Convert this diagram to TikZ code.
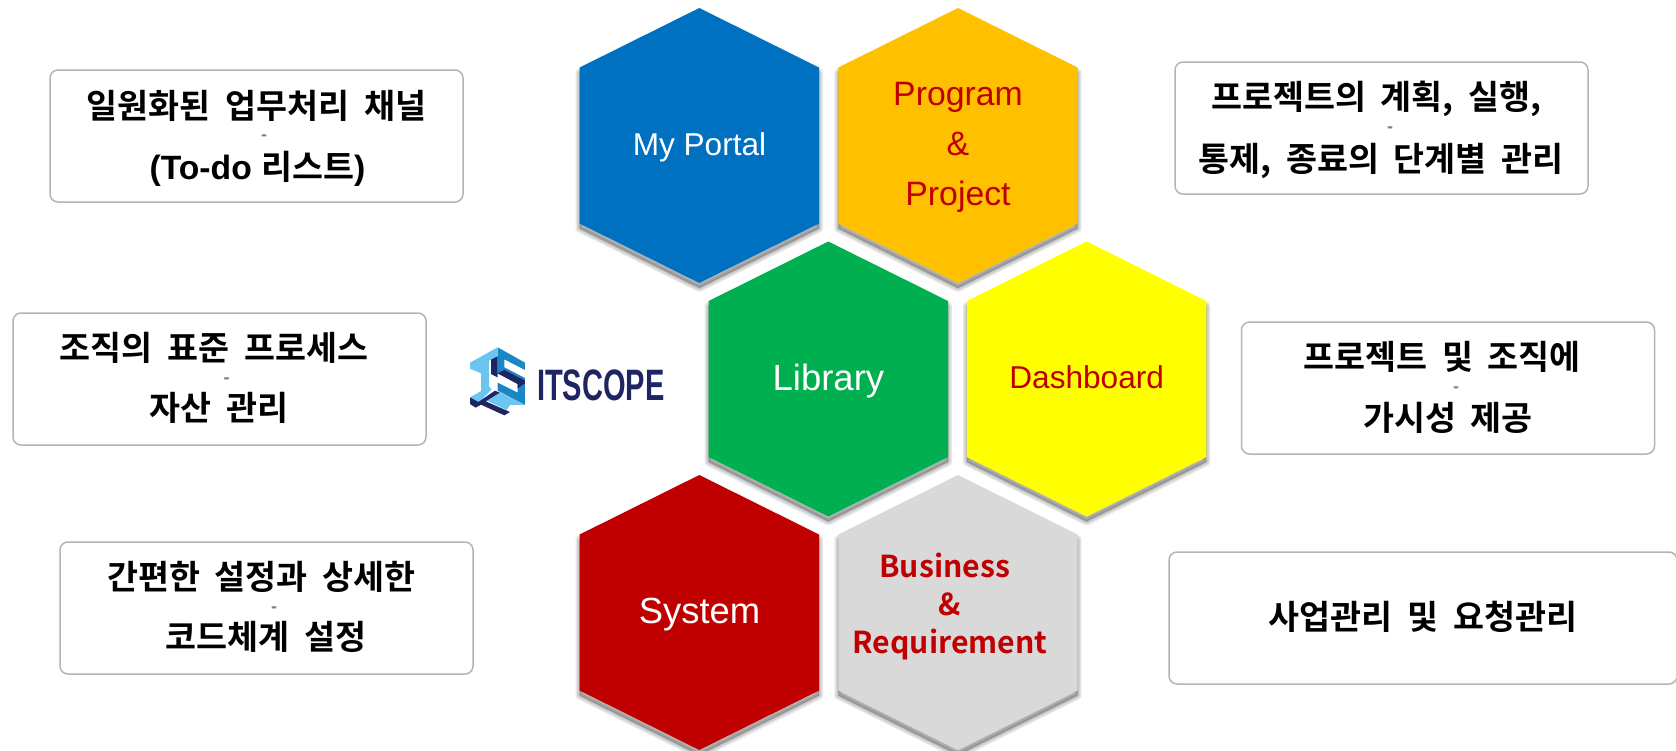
\documentclass[tikz,border=0pt]{standalone}
\usepackage{fontspec}
\setmainfont{Liberation Sans}
\newfontfamily\krfont[BoldFont={Noto Sans CJK KR Bold},WordSpace=1.9]{Noto Sans CJK KR}
\definecolor{hexblue}{HTML}{0070C0}
\definecolor{hexamber}{HTML}{FFC000}
\definecolor{hexgreen}{HTML}{00B050}
\definecolor{hexyellow}{HTML}{FFFF00}
\definecolor{hexred}{HTML}{C00000}
\definecolor{hexgray}{HTML}{D9D9D9}
\definecolor{boxline}{HTML}{B4B4B4}
\definecolor{logolight}{HTML}{6CC5F1}
\definecolor{logomid}{HTML}{1B86C6}
\definecolor{logonavy}{HTML}{1F2562}
\tikzset{
  infobox/.style={draw=boxline,line width=1.5pt,rounded corners=8pt,minimum width=413pt,minimum height=132pt,inner sep=0pt},
  krline/.style={anchor=base,inner sep=0pt,font={\fontsize{33.7}{36}\selectfont\krfont\bfseries}},
  tick/.style={anchor=base,inner sep=0pt,text=gray,font={\fontsize{18}{18}\selectfont\bfseries}},
  hexlabel/.style={anchor=base,inner sep=0pt,align=center},
  bizlabel/.style={anchor=base,inner sep=0pt,text=hexred,font={\fontsize{30.2}{32}\selectfont\krfont\bfseries}},
}
\def\hexpath{(-119.7,-78) -- (0,-137.5) -- (119.7,-78) -- (119.7,78) -- (0,137.5) -- (-119.7,78) -- cycle}
\begin{document}
\begin{tikzpicture}[x=1pt,y=-1pt]
  \useasboundingbox (0,0) rectangle (1676,750);

  %shadows first, then the cells
  \foreach \cx/\cy in {699.3/145.5,958/145.5,828.3/379,1086.6/379,699.3/612.5,958/612.5}
    \foreach \w in {8,5,2}
      \filldraw[black,opacity=0.09,line width=\w pt,line join=round,shift={(\cx,\cy+5)}] \hexpath;
  \foreach \cx/\cy/\col in {699.3/145.5/hexblue,958/145.5/hexamber,828.3/379/hexgreen,1086.6/379/hexyellow,699.3/612.5/hexred,958/612.5/hexgray}
    \fill[\col,shift={(\cx,\cy)}] \hexpath;

  \node[hexlabel,text=white,font=\fontsize{31.6}{36}\selectfont] (portal) at (699.5,155) {My Portal};
  \node[hexlabel,text=hexred,font=\fontsize{33.8}{36}\selectfont] (program) at (958,105.3) {Program};
  \node[hexlabel,text=hexred,font=\fontsize{33.8}{36}\selectfont] (amp) at (958,155) {\&};
  \node[hexlabel,text=hexred,font=\fontsize{33.8}{36}\selectfont] (project) at (958,205.3) {Project};
  \node[hexlabel,text=white,font=\fontsize{36.5}{36}\selectfont] (library) at (828.4,390.7) {Library};
  \node[hexlabel,text=hexred,font=\fontsize{31.6}{36}\selectfont] (dashboard) at (1086.7,388) {Dashboard};
  \node[hexlabel,text=white,font=\fontsize{36.4}{36}\selectfont] (system) at (699.5,623) {System};
  \node[bizlabel] (business) at (944.7,577) {Business};
  \node[bizlabel] (bizamp) at (950,615) {\&};
  \node[bizlabel] (requirement) at (950,653) {Requirement};

  %left boxes
  \node[infobox] (todobox) at (256.5,136) {};
  \node[krline] (todoa) at (256.5,118) {일원화된 업무처리 채널};
  \node[tick] (todot) at (264,140.8) {-};
  \node[krline] (todob) at (257.5,179) {{\rmfamily (To-do }리스트{\rmfamily )}};

  \node[infobox] (assetbox) at (219.5,379) {};
  \node[krline] (asseta) at (214,360) {조직의 표준 프로세스};
  \node[tick] (assett) at (226.7,383.8) {-};
  \node[krline] (assetb) at (218.8,420) {자산 관리};

  \node[infobox] (codebox) at (266.5,608) {};
  \node[krline] (codea) at (261.3,589) {간편한 설정과 상세한};
  \node[tick] (codet) at (274,612.8) {-};
  \node[krline] (codeb) at (265.8,649.5) {코드체계 설정};

  %right boxes
  \node[infobox] (stagebox) at (1381.5,128) {};
  \node[krline] (stagea) at (1376,109) {프로젝트의 계획, 실행,};
  \node[tick] (staget) at (1390,132.8) {-};
  \node[krline] (stageb) at (1381,171) {통제, 종료의 단계별 관리};

  \node[infobox] (viewbox) at (1448,388) {};
  \node[krline] (viewa) at (1442,369) {프로젝트 및 조직에};
  \node[tick] (viewt) at (1456,392.8) {-};
  \node[krline] (viewb) at (1448,430) {가시성 제공};

  \node[infobox,minimum width=508pt] (bizbox) at (1423,618) {};
  \node[krline] (biza) at (1423,629) {사업관리 및 요청관리};

  %logo
  \begin{scope}[shift={(465,340)},x=0.3333pt,y=-0.3333pt]
    \fill[logomid] (98,22) -- (180,68) -- (180,90) -- (118,58) -- (118,82) -- (180,114) -- (180,195) -- (98,152) -- (98,128) -- (158,158) -- (158,132) -- (98,100) -- cycle;
    \fill[logonavy] (98,100) -- (118,90) -- (180,122) -- (180,130) -- (158,145) -- (158,132) -- cycle;
    \fill[logonavy] (78,58) -- (98,48) -- (98,112) -- (78,102) -- cycle;
    \fill[logolight] (15,68) -- (98,22) -- (98,48) -- (72,62) -- (72,150) -- (48,164) -- (48,100) -- (15,86) -- cycle;
    \fill[logolight] (62,180) -- (100,155) -- (180,195) -- (135,195) -- (125,210) -- cycle;
    \fill[logolight] (15,172) -- (72,140) -- (80,148) -- (40,188) -- cycle;
    \fill[logonavy] (15,172) -- (40,186) -- (90,152) -- (104,158) -- (62,184) -- (135,216) -- (118,226) -- (48,194) -- (32,203) -- (15,192) -- cycle;
  \end{scope}
  \node[anchor=base west,inner sep=0pt,text=logonavy,font=\fontsize{44}{44}\selectfont\bfseries,xscale=0.66] (logotext) at (537,400) {ITSCOPE};
\end{tikzpicture}
\end{document}
